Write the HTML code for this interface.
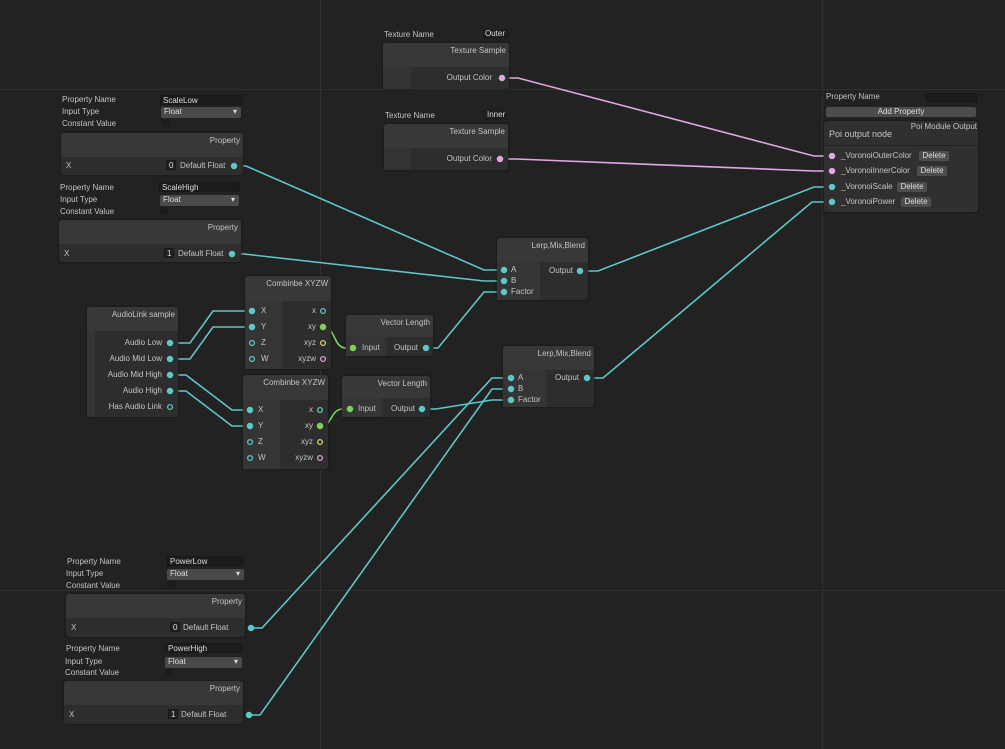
<!DOCTYPE html><html><head><style>
body{margin:0;width:1005px;height:749px;background:#222;position:relative;overflow:hidden;font-family:"Liberation Sans",sans-serif;font-size:8px;color:#c4c4c4}
.a{position:absolute}
.gh{position:absolute;left:0;width:1005px;height:1px;background:#303030}
.gv{position:absolute;top:0;height:749px;width:1px;background:#303030}
.node{position:absolute;background:#2d2d2d;border-radius:3px;box-shadow:0 0 2px #111}
.hd{position:absolute;left:0;right:0;top:0;background:#383838;border-radius:3px 3px 0 0}
.ttl{position:absolute;right:3px;top:3px;white-space:nowrap}
.fld{position:absolute;background:#1c1c1c;border:1px solid #181818;color:#ddd;padding-left:2px;line-height:10px;height:10px;box-sizing:border-box}
.dd{position:absolute;background:#4a4a4a;color:#ddd;padding-left:3px;line-height:10px;height:11px;border-radius:2px;box-sizing:border-box}
.dd:after{content:"▾";position:absolute;right:4px;top:0;font-size:8px}
.cb{position:absolute;width:8px;height:8px;background:#1c1c1c}
.t{position:absolute;white-space:nowrap;line-height:10px}
.btn{position:absolute;background:#4d4d4d;color:#ddd;border-radius:2px;text-align:center;line-height:10px;height:10px}
</style></head><body>
<div class="gh" style="top:89px"></div><div class="gh" style="top:590px"></div>
<div class="gv" style="left:320px"></div><div class="gv" style="left:822px"></div>

<svg class="a" style="left:0;top:0" width="1005" height="749">
<g fill="none" stroke-width="1.6">
<g stroke="#5cc8c8">
<polyline points="234,166 246,166 484,270 504,270"/>
<polyline points="232,254 244,254 484,281 504,281"/>
<polyline points="426,348 438,348 484,292 504,292"/>
<polyline points="580,271 598,271 814,187 832,187"/>
<polyline points="587,378 603,378 812,202 832,202"/>
<polyline points="251,628 262,628 492,378 511,378"/>
<polyline points="249,715 260,715 492,389 511,389"/>
<polyline points="422,409 436,409 492,400 511,400"/>
<polyline points="170,343 190,343 213,311 252,311"/>
<polyline points="170,359 190,359 213,327 252,327"/>
<polyline points="170,375 186,375 232,410 250,410"/>
<polyline points="170,391 186,391 232,426 250,426"/>
</g>
<g stroke="#7fd15a"><path d="M323,327 C336,327 333,348 346,348 L353,348"/><path d="M320,426 C333,426 330,409 343,409 L350,409"/></g>
<g stroke="#e0a8e0"><polyline points="502,78 518,78 814,156 832,156"/><polyline points="500,159 516,159 814,171 832,171"/></g>
</g></svg>

<!-- ScaleLow -->
<div class="t" style="left:62px;top:95px">Property Name</div><div class="fld" style="left:160px;top:95px;width:82px">ScaleLow</div>
<div class="t" style="left:62px;top:107px">Input Type</div><div class="dd" style="left:161px;top:107px;width:80px">Float</div>
<div class="t" style="left:62px;top:119px">Constant Value</div><div class="cb" style="left:161px;top:119px"></div>
<div class="node" style="left:61px;top:133px;width:182px;height:42px"><div class="hd" style="height:24px"></div><div class="ttl">Property</div>
<div class="t" style="left:5px;top:28px">X</div><div class="fld" style="left:105px;top:27px;width:10px;background:#222">0</div><div class="t" style="left:119px;top:28px">Default Float</div></div>
<!-- ScaleHigh -->
<div class="t" style="left:60px;top:183px">Property Name</div><div class="fld" style="left:159px;top:182px;width:81px">ScaleHigh</div>
<div class="t" style="left:60px;top:195px">Input Type</div><div class="dd" style="left:160px;top:195px;width:79px">Float</div>
<div class="t" style="left:60px;top:207px">Constant Value</div><div class="cb" style="left:160px;top:207px"></div>
<div class="node" style="left:59px;top:220px;width:182px;height:42px"><div class="hd" style="height:24px"></div><div class="ttl">Property</div>
<div class="t" style="left:5px;top:29px">X</div><div class="fld" style="left:105px;top:28px;width:10px;background:#222">1</div><div class="t" style="left:119px;top:29px">Default Float</div></div>
<!-- PowerLow -->
<div class="t" style="left:67px;top:557px">Property Name</div><div class="fld" style="left:167px;top:556px;width:77px">PowerLow</div>
<div class="t" style="left:66px;top:569px">Input Type</div><div class="dd" style="left:167px;top:569px;width:77px">Float</div>
<div class="t" style="left:66px;top:581px">Constant Value</div><div class="cb" style="left:167px;top:581px"></div>
<div class="node" style="left:66px;top:594px;width:179px;height:43px"><div class="hd" style="height:24px"></div><div class="ttl">Property</div>
<div class="t" style="left:5px;top:29px">X</div><div class="fld" style="left:104px;top:28px;width:10px;background:#222">0</div><div class="t" style="left:117px;top:29px">Default Float</div></div>
<!-- PowerHigh -->
<div class="t" style="left:66px;top:644px">Property Name</div><div class="fld" style="left:165px;top:643px;width:77px">PowerHigh</div>
<div class="t" style="left:65px;top:657px">Input Type</div><div class="dd" style="left:165px;top:657px;width:77px">Float</div>
<div class="t" style="left:65px;top:668px">Constant Value</div><div class="cb" style="left:165px;top:668px"></div>
<div class="node" style="left:64px;top:681px;width:179px;height:43px"><div class="hd" style="height:24px"></div><div class="ttl">Property</div>
<div class="t" style="left:5px;top:29px">X</div><div class="fld" style="left:104px;top:28px;width:10px;background:#222">1</div><div class="t" style="left:117px;top:29px">Default Float</div></div>

<!-- Textures -->
<div class="t" style="left:384px;top:30px">Texture Name</div><div class="fld" style="left:483px;top:29px;width:26px;border:none;background:#1e1e1e">Outer</div>
<div class="node" style="left:383px;top:43px;width:126px;height:46px"><div class="hd" style="height:24px"></div><div class="ttl">Texture Sample</div>
<div class="a" style="left:0;top:24px;width:28px;height:22px;background:#333"></div><div class="t" style="right:17px;top:30px">Output Color</div></div>
<div class="t" style="left:385px;top:111px">Texture Name</div><div class="fld" style="left:485px;top:110px;width:22px;border:none;background:#1e1e1e">Inner</div>
<div class="node" style="left:384px;top:124px;width:124px;height:46px"><div class="hd" style="height:24px"></div><div class="ttl">Texture Sample</div>
<div class="a" style="left:0;top:24px;width:27px;height:22px;background:#333"></div><div class="t" style="right:16px;top:30px">Output Color</div></div>

<!-- Poi output -->
<div class="t" style="left:826px;top:92px">Property Name</div><div class="fld" style="left:925px;top:93px;width:52px;height:9px"></div>
<div class="btn" style="left:826px;top:107px;width:150px">Add Property</div>
<div class="node" style="left:824px;top:121px;width:154px;height:91px;background:#303030"><div class="t" style="right:1px;top:1px">Poi Module Output</div>
<div class="t" style="left:5px;top:8px;font-size:9px">Poi output node</div><div class="a" style="left:0;right:0;top:24px;height:1px;background:#222"></div>
<div class="t" style="left:17px;top:30px">_VoronoiOuterColor</div><div class="btn" style="left:95px;top:30px;width:30px">Delete</div>
<div class="t" style="left:17px;top:45px">_VoronoiInnerColor</div><div class="btn" style="left:93px;top:45px;width:30px">Delete</div>
<div class="t" style="left:17px;top:61px">_VoronoiScale</div><div class="btn" style="left:73px;top:61px;width:30px">Delete</div>
<div class="t" style="left:17px;top:76px">_VoronoiPower</div><div class="btn" style="left:77px;top:76px;width:30px">Delete</div></div>

<!-- AudioLink -->
<div class="node" style="left:87px;top:307px;width:91px;height:110px"><div class="hd" style="height:24px"></div><div class="ttl">AudioLink sample</div>
<div class="a" style="left:0;top:24px;width:8px;height:86px;background:#353535"></div>
<div class="t" style="right:16px;top:31px">Audio Low</div><div class="t" style="right:16px;top:47px">Audio Mid Low</div>
<div class="t" style="right:16px;top:63px">Audio Mid High</div><div class="t" style="right:16px;top:79px">Audio High</div><div class="t" style="right:16px;top:95px">Has Audio Link</div></div>

<!-- Combine 1 -->
<div class="node" style="left:245px;top:276px;width:86px;height:93px"><div class="hd" style="height:25px"></div><div class="ttl">Combinbe XYZW</div>
<div class="a" style="left:0;top:25px;width:37px;height:68px;background:#353535"></div>
<div class="t" style="left:16px;top:30px">X</div><div class="t" style="left:16px;top:46px">Y</div><div class="t" style="left:16px;top:62px">Z</div><div class="t" style="left:16px;top:78px">W</div>
<div class="t" style="right:15px;top:30px">x</div><div class="t" style="right:15px;top:46px">xy</div><div class="t" style="right:15px;top:62px">xyz</div><div class="t" style="right:15px;top:78px">xyzw</div></div>
<!-- Combine 2 -->
<div class="node" style="left:243px;top:375px;width:85px;height:94px"><div class="hd" style="height:25px"></div><div class="ttl">Combinbe XYZW</div>
<div class="a" style="left:0;top:25px;width:37px;height:69px;background:#353535"></div>
<div class="t" style="left:15px;top:30px">X</div><div class="t" style="left:15px;top:46px">Y</div><div class="t" style="left:15px;top:62px">Z</div><div class="t" style="left:15px;top:78px">W</div>
<div class="t" style="right:15px;top:30px">x</div><div class="t" style="right:15px;top:46px">xy</div><div class="t" style="right:15px;top:62px">xyz</div><div class="t" style="right:15px;top:78px">xyzw</div></div>

<!-- Vector length -->
<div class="node" style="left:346px;top:315px;width:87px;height:41px"><div class="hd" style="height:22px"></div><div class="ttl">Vector Length</div>
<div class="a" style="left:0;top:22px;width:40px;height:19px;background:#353535"></div>
<div class="t" style="left:16px;top:28px">Input</div><div class="t" style="right:15px;top:28px">Output</div></div>
<div class="node" style="left:342px;top:376px;width:88px;height:41px"><div class="hd" style="height:22px"></div><div class="ttl">Vector Length</div>
<div class="a" style="left:0;top:22px;width:40px;height:19px;background:#353535"></div>
<div class="t" style="left:16px;top:28px">Input</div><div class="t" style="right:15px;top:28px">Output</div></div>

<!-- Lerp -->
<div class="node" style="left:497px;top:238px;width:91px;height:62px"><div class="hd" style="height:24px"></div><div class="ttl">Lerp,Mix,Blend</div>
<div class="a" style="left:0;top:24px;width:43px;height:38px;background:#353535"></div>
<div class="t" style="left:14px;top:27px">A</div><div class="t" style="left:14px;top:38px">B</div><div class="t" style="left:14px;top:49px">Factor</div><div class="t" style="right:15px;top:28px">Output</div></div>
<div class="node" style="left:503px;top:346px;width:91px;height:61px"><div class="hd" style="height:24px"></div><div class="ttl">Lerp,Mix,Blend</div>
<div class="a" style="left:0;top:24px;width:43px;height:37px;background:#353535"></div>
<div class="t" style="left:15px;top:27px">A</div><div class="t" style="left:15px;top:38px">B</div><div class="t" style="left:15px;top:49px">Factor</div><div class="t" style="right:15px;top:27px">Output</div></div>

<!-- ports -->
<svg class="a" style="left:0;top:0" width="1005" height="749">
<g stroke-width="1.3">
<g fill="#5cc8c8" stroke="#5cc8c8">
<circle cx="234" cy="166" r="2.6"/><circle cx="232" cy="254" r="2.6"/><circle cx="251" cy="628" r="2.6"/><circle cx="249" cy="715" r="2.6"/>
<circle cx="170" cy="343" r="2.6"/><circle cx="170" cy="359" r="2.6"/><circle cx="170" cy="375" r="2.6"/><circle cx="170" cy="391" r="2.6"/>
<circle cx="252" cy="311" r="2.6"/><circle cx="252" cy="327" r="2.6"/><circle cx="250" cy="410" r="2.6"/><circle cx="250" cy="426" r="2.6"/>
<circle cx="426" cy="348" r="2.6"/><circle cx="422" cy="409" r="2.6"/>
<circle cx="504" cy="270" r="2.6"/><circle cx="504" cy="281" r="2.6"/><circle cx="504" cy="292" r="2.6"/><circle cx="580" cy="271" r="2.6"/>
<circle cx="511" cy="378" r="2.6"/><circle cx="511" cy="389" r="2.6"/><circle cx="511" cy="400" r="2.6"/><circle cx="587" cy="378" r="2.6"/>
<circle cx="832" cy="187" r="2.6"/><circle cx="832" cy="202" r="2.6"/>
</g>
<g fill="none" stroke="#5cc8c8"><circle cx="170" cy="407" r="2.4"/><circle cx="252" cy="343" r="2.4"/><circle cx="252" cy="359" r="2.4"/><circle cx="250" cy="442" r="2.4"/><circle cx="250" cy="458" r="2.4"/><circle cx="323" cy="311" r="2.4"/><circle cx="320" cy="410" r="2.4"/></g>
<g fill="#7fd15a" stroke="#7fd15a"><circle cx="323" cy="327" r="2.6"/><circle cx="320" cy="426" r="2.6"/><circle cx="353" cy="348" r="2.6"/><circle cx="350" cy="409" r="2.6"/></g>
<g fill="none" stroke="#d8d060"><circle cx="323" cy="343" r="2.4"/><circle cx="320" cy="442" r="2.4"/></g>
<g fill="none" stroke="#d8a0d8"><circle cx="323" cy="359" r="2.4"/><circle cx="320" cy="458" r="2.4"/></g>
<g fill="#e0a8e0" stroke="#e0a8e0"><circle cx="502" cy="78" r="2.6"/><circle cx="500" cy="159" r="2.6"/><circle cx="832" cy="156" r="2.6"/><circle cx="832" cy="171" r="2.6"/></g>
</g></svg>
</body></html>
